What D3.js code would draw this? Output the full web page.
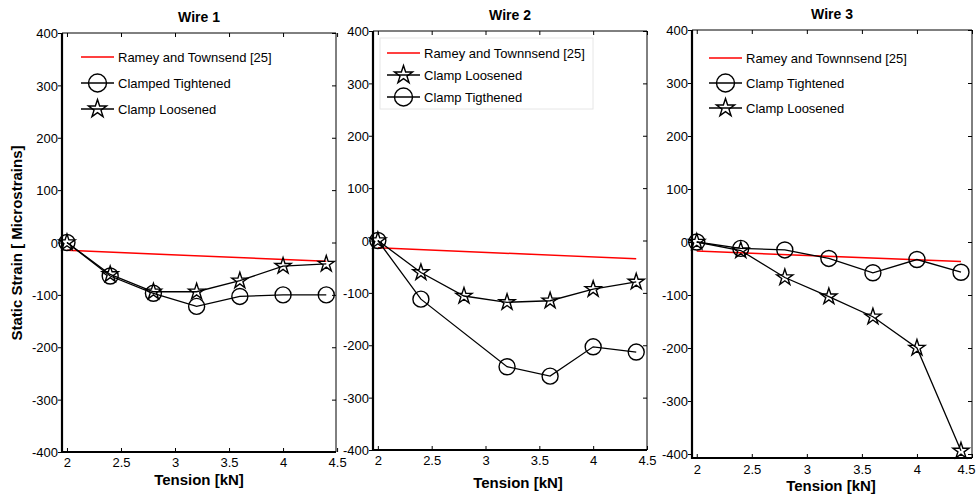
<!DOCTYPE html>
<html>
  <head>
    <meta charset="utf-8">
    <title>Static Strain vs Tension</title>
    <script src="https://cdnjs.cloudflare.com/ajax/libs/d3/7.8.5/d3.min.js"></script>
    <style>
      body { margin: 0; background: #fff; }
      text { font-family: Arial, "Liberation Sans", sans-serif; fill: #000; }
    </style>
  </head>
  <body>
    <div id="chart"></div>
    <script type="text/javascript">
      // data
      var tension = [2, 2.4, 2.8, 3.2, 3.6, 4.0, 4.4];
      var tensionW2Tight = [2, 2.4, 3.2, 3.6, 4.0, 4.4];
      var rameyX = [2, 4.4];

      var w1Ramey = [-15, -36];
      var w1Tight = [0, -64, -97, -122, -103, -100, -100];
      var w1Loose = [0, -61, -94, -94, -73, -45, -41];

      var w2Ramey = [-14, -35];
      var w2Loose = [0, -61, -106, -118, -115, -93, -79];
      var w2Tight = [0, -112, -241, -259, -203, -213];

      var w3Ramey = [-17, -37];
      var w3Tight = [0, -12, -15, -31, -58, -33, -57];
      var w3Loose = [0, -16, -67, -103, -141, -200, -394];

      var xTicks = [2, 2.5, 3, 3.5, 4, 4.5];
      var yTicks = [-400, -300, -200, -100, 0, 100, 200, 300, 400];

      var w = 976, h = 498;
      var svg = d3.select("#chart").append("svg")
        .attr("width", w)
        .attr("height", h);

      var panels = [
        { title: "Wire 1", frame: [62, 336, 33, 452], xd: [1.954, 4.49], yd: [-400, 400], xlab: 199, xbase: 485, tickBase: 15,
          legend: { x: 81, y: 57, gap: 26, box: false,
            items: [["red", "Ramey and Townsend [25]"], ["circle", "Clamped Tightened"], ["star", "Clamp Loosened"]] },
          series: [
            { type: "red", x: rameyX, y: w1Ramey },
            { type: "circle", x: tension, y: w1Tight },
            { type: "star", x: tension, y: w1Loose }
          ] },
        { title: "Wire 2", frame: [373, 647, 31, 450], xd: [1.955, 4.5], yd: [-400, 400], xlab: 518, xbase: 488, tickBase: 15,
          legend: { x: 387, y: 53, gap: 22, box: [380, 38, 213, 71],
            items: [["red", "Ramey and Townnsend [25]"], ["star", "Clamp Loosened"], ["circle", "Clamp Tigthened"]] },
          series: [
            { type: "red", x: rameyX, y: w2Ramey },
            { type: "star", x: tension, y: w2Loose },
            { type: "circle", x: tensionW2Tight, y: w2Tight }
          ] },
        { title: "Wire 3", frame: [692, 972, 30, 458], xd: [1.957, 4.5], yd: [-407.5, 400], xlab: 831, xbase: 491, tickBase: 16,
          legend: { x: 709, y: 58, gap: 25, box: false,
            items: [["red", "Ramey and Townnsend [25]"], ["circle", "Clamp Tightened"], ["star", "Clamp Loosened"]] },
          series: [
            { type: "red", x: rameyX, y: w3Ramey },
            { type: "circle", x: tension, y: w3Tight },
            { type: "star", x: tension, y: w3Loose }
          ] }
      ];

      var starPath = function(r) {
        return d3.symbol().type(d3.symbolStar).size(r * r / 0.8908130915292852)();
      };

      function drawMarker(g, type, cx, cy, r) {
        if (type === "circle") {
          g.append("circle")
            .attr("cx", cx).attr("cy", cy).attr("r", r)
            .style("fill", "none").style("stroke", "#000").style("stroke-width", 1.4);
        } else if (type === "star") {
          g.append("path")
            .attr("d", starPath(r + 0.5))
            .attr("transform", "translate(" + cx + "," + cy + ")")
            .style("fill", "none").style("stroke", "#000").style("stroke-width", 1.4);
        }
      }

      // plain hyphen minus like the original
      var plain = function(d) { return String(d); };

      panels.forEach(function(p) {
        var L = p.frame[0], R = p.frame[1], T = p.frame[2], B = p.frame[3];
        var x = d3.scaleLinear().domain(p.xd).range([L, R]);
        var y = d3.scaleLinear().domain(p.yd).range([B, T]);
        var g = svg.append("g");

        // frame: top/right thin, left/bottom thick
        g.append("line").attr("x1", L).attr("x2", R).attr("y1", T).attr("y2", T)
          .style("stroke", "#000").style("stroke-width", 1);
        g.append("line").attr("x1", R).attr("x2", R).attr("y1", T).attr("y2", B)
          .style("stroke", "#000").style("stroke-width", 1);

        // bottom axis, ticks inside
        var xAxis = d3.axisBottom(x).tickValues(xTicks).tickSizeInner(-4).tickSizeOuter(0)
          .tickFormat(plain);
        var gx = g.append("g").attr("transform", "translate(0," + B + ")").call(xAxis);
        gx.select(".domain").style("stroke-width", 2.2).attr("d", "M" + (L - 1) + ",0H" + R);
        gx.selectAll("text").attr("y", p.tickBase).attr("dy", 0)
          .style("font-size", "13px").style("font-family", "Arial, 'Liberation Sans', sans-serif");
        // keep the last label inside the page edge
        gx.selectAll(".tick text").filter(function(d) { return x(d) + 10 > w; })
          .attr("text-anchor", "end").attr("x", function(d) { return w - 1 - x(d); });
        // top mirror ticks
        g.append("g").attr("transform", "translate(0," + T + ")")
          .call(d3.axisTop(x).tickValues(xTicks).tickSizeInner(-4).tickSizeOuter(0).tickFormat(""))
          .select(".domain").remove();

        // left axis, ticks outside
        var yAxis = d3.axisLeft(y).tickValues(yTicks).tickSizeInner(4).tickSizeOuter(0)
          .tickFormat(plain);
        var gy = g.append("g").attr("transform", "translate(" + L + ",0)").call(yAxis);
        gy.select(".domain").style("stroke-width", 2.2).attr("d", "M0," + (B + 1) + "V" + T);
        gy.selectAll("text").attr("x", -4).attr("dy", "0.36em")
          .style("font-size", "13px").style("font-family", "Arial, 'Liberation Sans', sans-serif");
        // right mirror ticks
        g.append("g").attr("transform", "translate(" + R + ",0)")
          .call(d3.axisRight(y).tickValues(yTicks).tickSizeInner(-4).tickSizeOuter(0).tickFormat(""))
          .select(".domain").remove();

        // title and x label
        g.append("text").attr("x", (L + R) / 2).attr("y", T - 11)
          .attr("text-anchor", "middle").style("font-size", "14px").style("font-weight", "bold")
          .text(p.title);
        g.append("text").attr("x", p.xlab).attr("y", p.xbase)
          .attr("text-anchor", "middle").style("font-size", "15px").style("font-weight", "bold")
          .text("Tension [kN]");

        // series
        p.series.forEach(function(s) {
          var pts = s.x.map(function(v, i) { return [x(v), y(s.y[i])]; });
          g.append("path")
            .attr("d", d3.line()(pts))
            .style("fill", "none")
            .style("stroke", s.type === "red" ? "#ff0000" : "#000")
            .style("stroke-width", s.type === "red" ? 1.5 : 1.3);
          if (s.type !== "red") {
            pts.forEach(function(pt) { drawMarker(g, s.type, pt[0], pt[1], 8); });
          }
        });

        // legend
        var lg = p.legend;
        if (lg.box) {
          g.append("rect").attr("x", lg.box[0]).attr("y", lg.box[1])
            .attr("width", lg.box[2]).attr("height", lg.box[3])
            .style("fill", "#fff").style("stroke", "#e6e6e6").style("stroke-width", 1);
        }
        lg.items.forEach(function(it, i) {
          var ly = lg.y + i * lg.gap;
          g.append("line").attr("x1", lg.x).attr("x2", lg.x + 33).attr("y1", ly).attr("y2", ly)
            .style("stroke", it[0] === "red" ? "#ff0000" : "#000")
            .style("stroke-width", it[0] === "red" ? 1.5 : 1.3);
          drawMarker(g, it[0], lg.x + 16.5, ly, 9);
          g.append("text").attr("x", lg.x + 37).attr("y", ly + 4.5)
            .style("font-size", "13px").text(it[1]);
        });
      });

      // shared y label
      svg.append("text")
        .attr("transform", "translate(22,243) rotate(-90)")
        .attr("text-anchor", "middle")
        .style("font-size", "15px").style("font-weight", "bold")
        .text("Static Strain [ Microstrains]");
    </script>
  </body>
</html>
